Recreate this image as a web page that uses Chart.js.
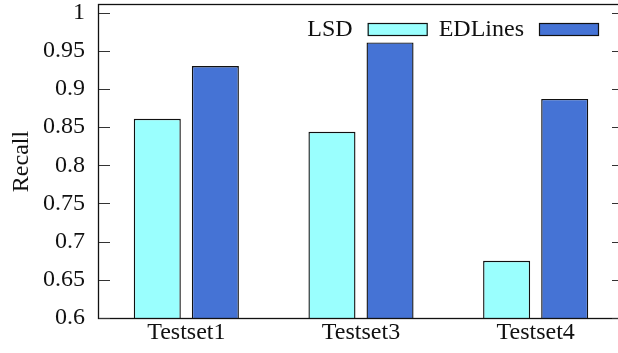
<!DOCTYPE html>
<html>
<head>
<meta charset="utf-8">
<script src="https://cdn.jsdelivr.net/npm/chart.js@4/dist/chart.umd.min.js"></script>
<style>
  html, body { margin: 0; padding: 0; overflow: hidden; background: #ffffff; }
  canvas { display: block; }
</style>
</head>
<body>
<canvas id="chart" width="630" height="353"></canvas>
<script>
// Recall of the two line detectors on each test set
const categories = ['Testset1', 'Testset3', 'Testset4'];
const seriesNames = ['LSD', 'EDLines'];
const lsdRecall = [0.861, 0.844, 0.675];
const edlinesRecall = [0.930, 0.961, 0.887];
const yTickValues = [0.6, 0.65, 0.7, 0.75, 0.8, 0.85, 0.9, 0.95, 1];
const yTickLabels = ['0.6', '0.65', '0.7', '0.75', '0.8', '0.85', '0.9', '0.95', '1'];

const FONT = '"Liberation Serif", "Times New Roman", serif';
const INK = '#111111';

// Closed frame around the plot with inward ticks on both vertical sides
const framePlugin = {
  id: 'frame',
  afterDatasetsDraw(chart) {
    const { ctx, chartArea: a } = chart;
    const y = chart.scales.y;
    ctx.save();
    ctx.strokeStyle = INK;
    ctx.lineWidth = 1.3;
    ctx.strokeRect(a.left - 0.5, a.top - 0.5, a.right - a.left, a.bottom - a.top + 1);
    ctx.lineWidth = 1;
    ctx.strokeStyle = '#333333';
    const len = 11;
    y.ticks.forEach(t => {
      const py = Math.round(y.getPixelForValue(t.value)) + 0.5;
      ctx.beginPath();
      ctx.moveTo(a.left, py); ctx.lineTo(a.left + len, py);
      ctx.moveTo(a.right - len, py); ctx.lineTo(a.right, py);
      ctx.stroke();
    });
    ctx.restore();
  }
};

// Key inside the top of the plot: name first, then its colour sample
const keyPlugin = {
  id: 'key',
  afterDatasetsDraw(chart) {
    const { ctx, chartArea: a } = chart;
    const ds = chart.data.datasets;
    const sampleW = 60, sampleH = 13, gapText = 15, gapItem = 11;
    const top = a.top + 18;
    let right = a.right - 24;
    ctx.save();
    ctx.font = '24px ' + FONT;
    ctx.textAlign = 'right';
    ctx.textBaseline = 'alphabetic';
    for (let i = ds.length - 1; i >= 0; i--) {
      const x0 = right - sampleW;
      ctx.fillStyle = ds[i].backgroundColor;
      ctx.fillRect(x0, top, sampleW, sampleH);
      ctx.strokeStyle = INK;
      ctx.lineWidth = 1.2;
      ctx.strokeRect(x0 + 0.5, top + 0.5, sampleW - 1, sampleH - 1);
      ctx.fillStyle = INK;
      ctx.fillText(ds[i].label, x0 - gapText, top + sampleH);
      right = x0 - gapText - ctx.measureText(ds[i].label).width - gapItem;
    }
    ctx.restore();
  }
};

new Chart(document.getElementById('chart'), {
  type: 'bar',
  data: {
    labels: categories,
    datasets: [
      {
        label: seriesNames[0],
        data: lsdRecall,
        backgroundColor: '#9afffe',
        borderColor: INK,
        borderWidth: 1.4
      },
      {
        label: seriesNames[1],
        data: edlinesRecall,
        backgroundColor: '#4573d5',
        borderColor: INK,
        borderWidth: 1.4
      }
    ]
  },
  options: {
    responsive: false,
    animation: false,
    devicePixelRatio: 1,
    categoryPercentage: 0.665,
    barPercentage: 0.81,
    layout: { padding: { left: 0, top: 5, right: 7, bottom: 0 } },
    plugins: {
      legend: { display: false },
      tooltip: { enabled: false }
    },
    scales: {
      x: {
        offset: true,
        grid: { display: false, drawTicks: false },
        border: { display: false },
        ticks: { color: INK, font: { family: FONT, size: 24 }, padding: 0, maxRotation: 0 },
        afterFit(scale) {
          scale.height = 35;
          scale.paddingLeft = 0;
          scale.paddingRight = 0;
        }
      },
      y: {
        min: 0.6,
        max: 1.01,
        grid: { display: false, drawTicks: false },
        border: { display: false },
        afterBuildTicks(scale) {
          scale.ticks = yTickValues.map(v => ({ value: v }));
        },
        ticks: {
          color: INK,
          font: { family: FONT, size: 24 },
          padding: 14,
          callback(value) {
            const i = yTickValues.findIndex(v => Math.abs(v - value) < 1e-9);
            return i >= 0 ? yTickLabels[i] : '';
          }
        },
        title: {
          display: true,
          text: 'Recall',
          color: INK,
          font: { family: FONT, size: 24 },
          padding: { top: 7, bottom: 0 }
        },
        afterFit(scale) {
          scale.width = 99;
          scale.paddingTop = 0;
          scale.paddingBottom = 0;
        }
      }
    }
  },
  plugins: [framePlugin, keyPlugin]
});
</script>
</body>
</html>
